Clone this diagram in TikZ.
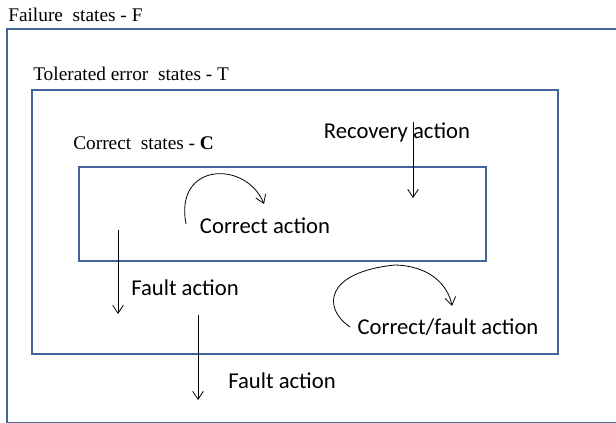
\documentclass[tikz,border=0pt]{standalone}
\usepackage{fontspec}
\setmainfont{Liberation Serif}
\newfontfamily\calibri{Carlito}
\usetikzlibrary{arrows.meta}
\definecolor{boxblue}{RGB}{66,100,155}
\tikzset{
    setbox/.style={draw=boxblue, line width=1.6pt, fill=none,
    	anchor=north west, inner sep=0pt}
}
\tikzset{
    setname/.style={anchor=west, inner sep=0pt, font=\fontsize{14.5}{17}\selectfont}
}
\tikzset{
    actname/.style={inner sep=0pt, font=\calibri\fontsize{17}{20}\selectfont}
}
\tikzset{
    act/.style={-{Straight Barb[length=6pt,width=8pt]}, line width=0.6pt}
}

\begin{document}
\begin{tikzpicture}[x=0.75pt, y=-0.75pt]
  \useasboundingbox (0,0) rectangle (616,423);
  \clip (0,0) rectangle (616,423);

  % the three sets of states
  \node (F) [setbox, minimum width=660*0.75pt, minimum height=394*0.75pt] at (6,28) {};
  \node (T) [setbox, minimum width=526*0.75pt, minimum height=264*0.75pt] at (31,89) {};
  \node (C) [setbox, minimum width=407*0.75pt, minimum height=94*0.75pt] at (78,166) {};

  \node (Fname) [setname] at (8,15) {Failure\ \ states\ - F};
  \node (Tname) [setname] at (33,74) {Tolerated error\ \ states - T};
  \node (Cname) [setname] at (73,143) {Correct\ \ states\ - \textbf{C}};

  % actions
  \node (rec) [actname] at (397,132) {Recovery action};
  \node (cor) [actname] at (265,226) {Correct action};
  \node (flt1) [actname] at (185,288) {Fault action};
  \node (flt2) [actname] at (282,381) {Fault action};
  \node (cf) [actname] at (448,327) {Correct/fault action};

  \coordinate (rec1) at (413,122);
  \coordinate (rec2) at (413,198);
  \coordinate (cor1) at (186,224);
  \coordinate (cor2) at (264,204);
  \coordinate (flt1a) at (118,230);
  \coordinate (flt1b) at (118,314);
  \coordinate (flt2a) at (198,315);
  \coordinate (flt2b) at (198,400);
  \coordinate (cf1) at (350,327);
  \coordinate (cf2) at (452,306);

  \draw [act] (rec1) -- (rec2);
  \draw [act] (cor1) .. controls (174,162) and (246,160) .. (cor2);
  \draw [act] (flt1a) -- (flt1b);
  \draw [act] (flt2a) -- (flt2b);
  \draw [act] (cf1) .. controls (322,308) and (325,272) .. (395,265)
    .. controls (430,266) and (448,285) .. (cf2);
\end{tikzpicture}
\end{document}
